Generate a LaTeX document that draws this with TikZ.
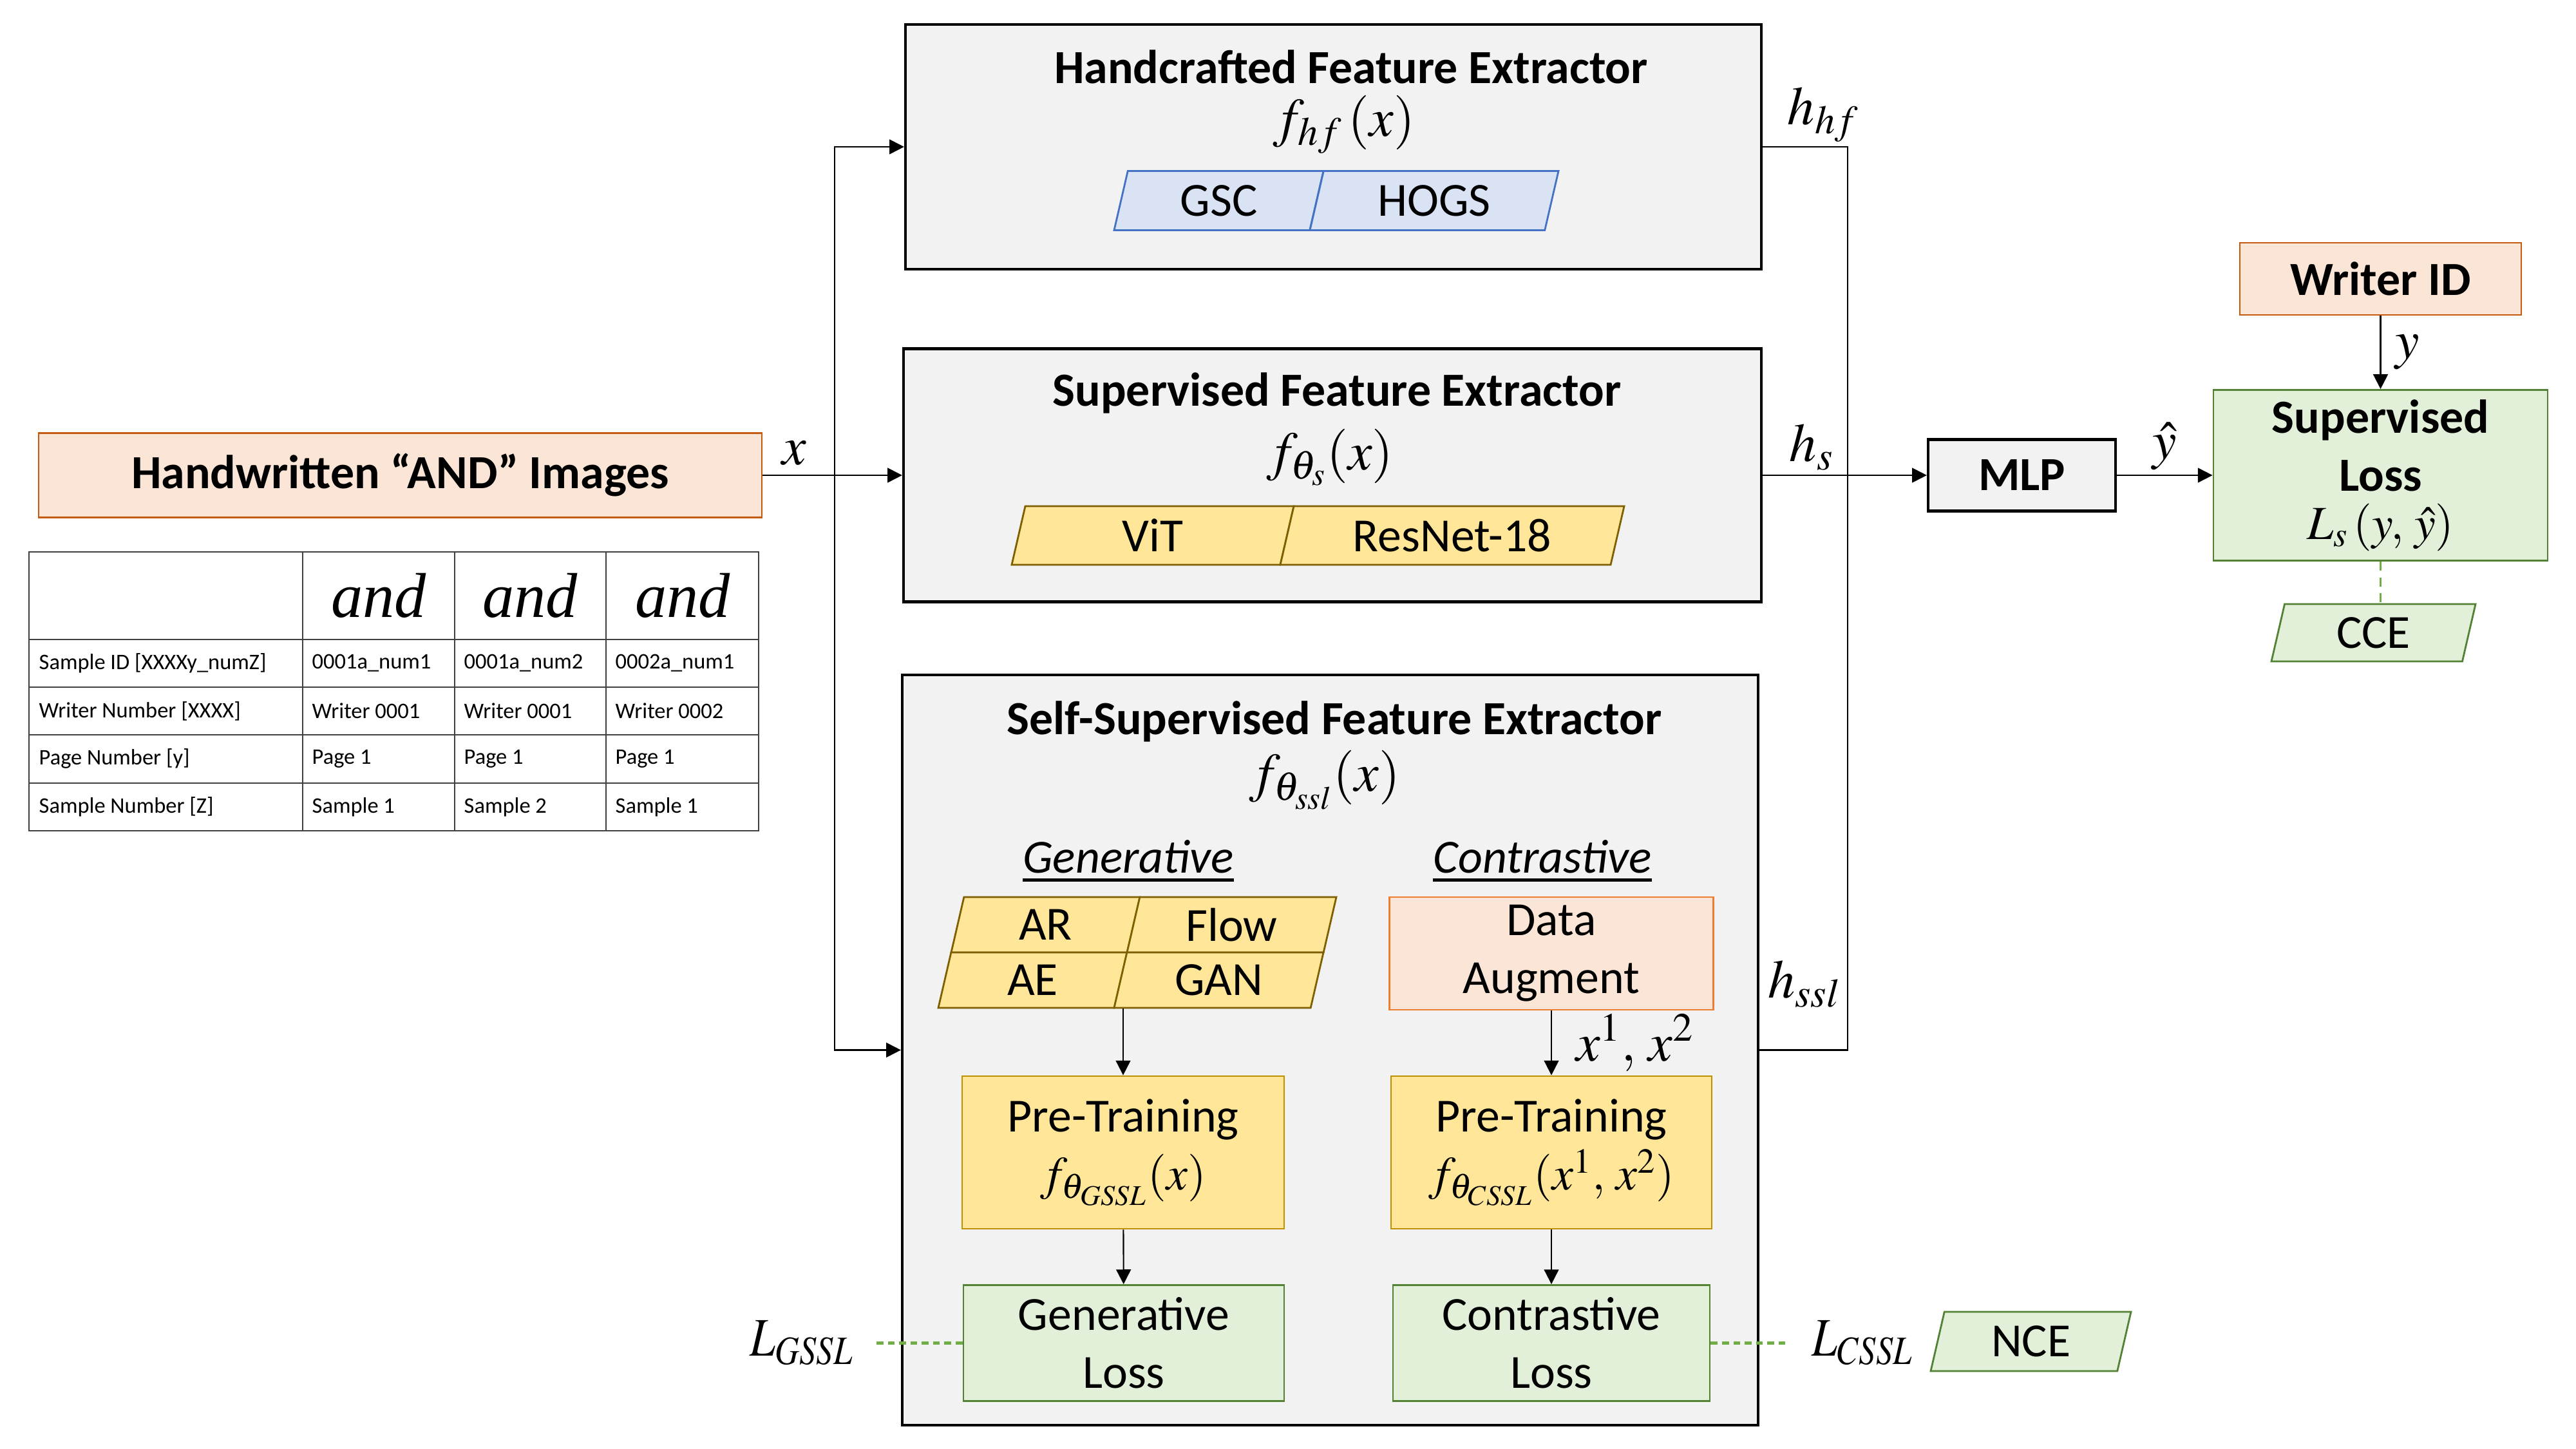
\documentclass[tikz,border=0pt]{standalone}
\usepackage{mathptmx}
\usepackage[no-math]{fontspec}
\setmainfont{Carlito}
\newfontfamily\handfont{Liberation Serif}
\usetikzlibrary{arrows.meta}
\usetikzlibrary{calc}
\definecolor{grayfill}{HTML}{F2F2F2}
\definecolor{orangefill}{HTML}{FBE5D6}
\definecolor{orangeline}{HTML}{C55A11}
\definecolor{augline}{HTML}{ED7D31}
\definecolor{bluefill}{HTML}{DAE3F3}
\definecolor{blueline}{HTML}{4472C4}
\definecolor{goldfill}{HTML}{FFE699}
\definecolor{goldline}{HTML}{7F6000}
\definecolor{ptline}{HTML}{BF9000}
\definecolor{greenfill}{HTML}{E2F0D9}
\definecolor{greenline}{HTML}{548235}
\definecolor{dotgreen}{HTML}{70AD47}
% slanted cell: name, x, y, width, height, style, text
\newcommand\paracell[7]{%
  \draw[#6] ({#2-#4/2},{#3-#5/2}) -- ++({#4-0.231*#5},0) -- ++({0.231*#5},#5)
    -- ++({0.231*#5-#4},0) -- cycle;
  \node[minimum width=#4cm, minimum height=#5cm, inner sep=0pt] (#1) at (#2,#3) {#7};}

\begin{document}
\begin{tikzpicture}[font=\fontsize{21}{25.6}\selectfont, >={Triangle[length=6.5pt,width=6.5pt]},
  featbox/.style={draw, very thick, fill=grayfill, inner sep=0pt},
  orangebox/.style={draw=orangeline, thick, fill=orangefill, inner sep=0pt, align=center},
  goldbox/.style={draw=ptline, thick, fill=goldfill, inner sep=0pt, align=center},
  greenbox/.style={draw=greenline, thick, fill=greenfill, inner sep=0pt, align=center},
  bluepara/.style={draw=blueline, fill=bluefill, thick},
  goldpara/.style={draw=goldline, fill=goldfill, thick},
  greenpara/.style={draw=greenline, fill=greenfill, thick},
  mathlbl/.style={font=\fontsize{24}{28}\selectfont, inner sep=2pt, text=black},
  tabline/.style={semithick, black!75},
  tabtext/.style={font=\fontsize{9.8}{12}\selectfont, anchor=west, inner sep=0pt},
  conn/.style={semithick},
  lossdot/.style={dotgreen, line width=1.2pt, dash pattern=on 3pt off 2pt}]
\useasboundingbox (0,0) rectangle (40,-22.5);

% input images and sample table
\node[orangebox, minimum width=11.23cm, minimum height=1.31cm] (hwimg) at (6.215,-7.38) {\bfseries Handwritten “AND” Images};
\draw[tabline] (0.45,-8.57) rectangle (11.78,-12.90);
\foreach \y in {9.93,10.67,11.41,12.16}
  \draw[tabline] (0.45,-\y) -- (11.78,-\y);
\foreach \x in {4.70,7.06,9.41}
  \draw[tabline] (\x,-8.57) -- (\x,-12.90);
\foreach \i/\x in {1/5.88,2/8.23,3/10.60}
  \node[font=\handfont\itshape\fontsize{28}{30}\selectfont] (hand\i) at (\x,-9.25) {and};
\foreach \r/\y/\a/\b/\c/\d in {1/10.30/{Sample ID [XXXXy\_numZ]}/0001a\_num1/0001a\_num2/0002a\_num1,
    2/11.04/{Writer Number [XXXX]}/Writer 0001/Writer 0001/Writer 0002,
    3/11.785/{Page Number [y]}/Page 1/Page 1/Page 1,
    4/12.53/{Sample Number [Z]}/Sample 1/Sample 2/Sample 1} {
  \node[tabtext] (cell\r a) at (0.60,-\y) {\a};
  \node[tabtext] (cell\r b) at (4.84,-\y) {\b};
  \node[tabtext] (cell\r c) at (7.20,-\y) {\c};
  \node[tabtext] (cell\r d) at (9.55,-\y) {\d};
}

% handcrafted extractor
\node[featbox, minimum width=13.29cm, minimum height=3.80cm] (hcfe) at (20.705,-2.28) {};
\node (hcfetitle) at (20.98,-1.04) {\bfseries Handcrafted Feature Extractor};
\node[mathlbl] (hcfemath) at (20.87,-1.93) {$f_{hf}\,(x)$};
\paracell{gsc}{18.925}{-3.115}{3.25}{0.92}{bluepara}{GSC}
\paracell{hogs}{22.27}{-3.115}{3.86}{0.92}{bluepara}{HOGS}

% supervised extractor
\node[featbox, minimum width=13.32cm, minimum height=3.93cm] (sfe) at (20.69,-7.38) {};
\node (sfetitle) at (20.76,-6.10) {\bfseries Supervised Feature Extractor};
\node[mathlbl] (sfemath) at (20.65,-7.10) {$f_{\theta_s}(x)$};
\paracell{vit}{17.90}{-8.315}{4.38}{0.91}{goldpara}{ViT}
\paracell{resnet}{22.55}{-8.315}{5.34}{0.91}{goldpara}{ResNet-18}

% self-supervised extractor
\node[featbox, minimum width=13.29cm, minimum height=11.65cm] (ssfe) at (20.655,-16.305) {};
\node (ssfetitle) at (20.72,-11.20) {\bfseries Self-Supervised Feature Extractor};
\node[mathlbl] (ssfemath) at (20.57,-12.11) {$f_{\theta_{ssl}}(x)$};
\node[inner sep=0pt] (genlbl) at (17.52,-13.30) {\itshape Generative};
\node[inner sep=0pt] (conlbl) at (23.95,-13.30) {\itshape Contrastive};
\draw[very thick] ([yshift=-0.1cm]genlbl.south west) -- ([yshift=-0.1cm]genlbl.south east);
\draw[very thick] ([yshift=-0.1cm]conlbl.south west) -- ([yshift=-0.1cm]conlbl.south east);
\paracell{ar}{16.235}{-14.36}{2.93}{0.86}{goldpara}{AR}
\paracell{flow}{19.125}{-14.36}{3.25}{0.86}{goldpara}{Flow}
\paracell{ae}{16.035}{-15.22}{2.93}{0.86}{goldpara}{AE}
\paracell{gan}{18.925}{-15.22}{3.25}{0.86}{goldpara}{GAN}
\node[orangebox, draw=augline, minimum width=5.03cm, minimum height=1.75cm] (daug) at (24.09,-14.805) {Data\\Augment};
\node[goldbox, minimum width=5.00cm, minimum height=2.37cm] (ptgen) at (17.44,-17.895) {Pre-Training\\$f_{\theta_{GSSL}}(x)$};
\node[goldbox, minimum width=4.98cm, minimum height=2.37cm] (ptcon) at (24.09,-17.895) {Pre-Training\\$f_{\theta_{CSSL}}(x^1,\,x^2)$};
\node[greenbox, minimum width=4.98cm, minimum height=1.80cm] (genloss) at (17.45,-20.855) {Generative\\Loss};
\node[greenbox, minimum width=4.92cm, minimum height=1.80cm] (conloss) at (24.09,-20.855) {Contrastive\\Loss};
\paracell{nce}{31.535}{-20.83}{3.11}{0.92}{greenpara}{NCE}

% classifier and supervised loss
\node[featbox, minimum width=2.91cm, minimum height=1.11cm] (mlp) at (31.395,-7.38) {\bfseries MLP};
\node[orangebox, minimum width=4.37cm, minimum height=1.12cm] (wid) at (36.965,-4.33) {\bfseries Writer ID};
\node[greenbox, minimum width=5.19cm, minimum height=2.65cm] (suploss) at (36.965,-7.38) {\bfseries Supervised\\\bfseries Loss\\[-0.15cm]$L_s\,(y,\,\hat{y})$};
\paracell{cce}{36.855}{-9.825}{3.17}{0.89}{greenpara}{CCE}

% connectors
\coordinate (xsplit) at (12.96,-7.38);
\coordinate (hjoin) at (28.69,-7.38);
\draw[conn,->] (hwimg.east) -- (sfe.west);
\draw[conn,->] (xsplit) |- (hcfe.west);
\draw[conn,->] (xsplit) |- (ssfe.west);
\node[mathlbl, anchor=south west] (xlbl) at ($(hwimg.east)+(0.22,0.08)$) {$x$};
\draw[conn] (hcfe.east) -| (hjoin);
\draw[conn] (ssfe.east) -| (hjoin);
\draw[conn,->] (sfe.east) -- (mlp.west);
\node[mathlbl, anchor=south west] (hhflbl) at ($(hcfe.east)+(0.31,0)$) {$h_{hf}$};
\node[mathlbl, anchor=south west] (hslbl) at ($(sfe.east)+(0.34,0)$) {$h_s$};
\node[mathlbl] (hssllbl) at (28.02,-15.28) {$h_{ssl}$};
\draw[conn,->] (mlp) -- (suploss) node[mathlbl, midway, above] (yhatlbl) {$\hat{y}$};
\draw[conn,->] (wid) -- (suploss) node[mathlbl, midway, right, xshift=0.15cm] (ylbl) {$y$};
\draw[dotgreen, semithick, dash pattern=on 4pt off 3pt] (suploss.south) -- (suploss.south |- cce.north);
\draw[conn,->] (ptgen.north |- gan.south) -- (ptgen.north);
\draw[conn,->] (daug) -- (ptcon) node[mathlbl, midway, right, xshift=0.3cm] (xxlbl) {$x^1,\,x^2$};
\draw[conn,->] (ptgen) -- (genloss);
\draw[conn,->] (ptcon) -- (conloss);
\draw[lossdot] (genloss.west) -- ++(-1.34,0) node[mathlbl, left, xshift=-0.26cm] (lgssl) {\scalebox{0.84}[1]{$L_{GSSL}$}};
\draw[lossdot] (conloss.east) -- ++(1.16,0) node[mathlbl, right, xshift=0.32cm] (lcssl) {\scalebox{0.84}[1]{$L_{CSSL}$}};
\end{tikzpicture}
\end{document}
